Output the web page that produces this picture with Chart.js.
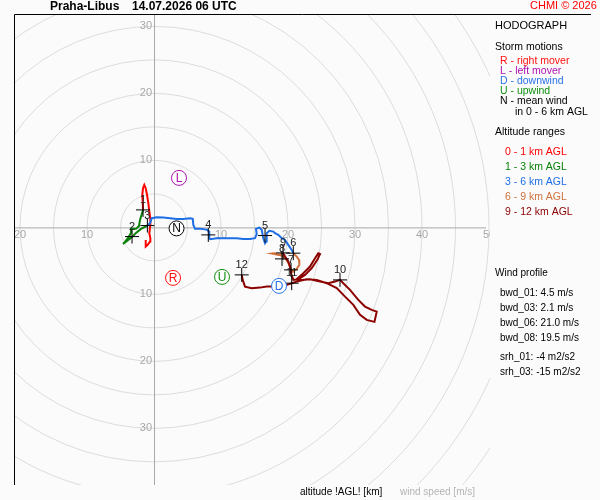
<!DOCTYPE html>
<html>
<head>
<meta charset="utf-8">
<script src="https://cdn.jsdelivr.net/npm/chart.js@4"></script>
<style>
  body { margin: 0; background: #fbfbfb; }
  canvas { display: block; }
</style>
</head>
<body>
<canvas id="chart" width="600" height="500"></canvas>
<script>
// hodograph traces, [u, v] in m/s
const layer0to1 = [[-1.24,-1.87],[-1.24,-2.87],[-0.94,-2.61],[-0.60,-2.12],[-0.55,-1.61],[-0.70,-0.87],[-0.55,0.37],[-0.55,1.37],[-0.70,2.36],[-0.85,3.61],[-1.04,4.85],[-1.24,5.85],[-1.45,6.34],[-1.64,5.85],[-1.75,4.85],[-1.69,3.85],[-1.64,2.61]];
const layer1to3 = [[-1.64,2.61],[-2.09,1.12],[-2.24,0.22],[-2.69,-0.22],[-3.43,-0.22],[-3.43,-0.82],[-3.88,-1.57],[-4.33,-2.16],[-4.63,-2.46],[-4.03,-2.01],[-3.28,-1.42],[-2.69,-0.82],[-1.94,-0.22],[-0.99,0.27]];
const layer3to6 = [[-0.99,0.27],[-0.60,0.63],[-0.34,1.37],[0.40,1.52],[1.39,1.46],[2.39,1.37],[3.39,1.27],[4.37,1.27],[5.37,1.37],[5.78,1.27],[5.87,0.37],[6.12,-0.22],[6.87,-0.22],[7.87,-0.33],[8.25,-0.63],[8.25,-1.61],[8.36,-1.76],[9.36,-1.61],[10.85,-1.61],[12.34,-1.61],[13.33,-1.72],[14.33,-1.72],[15.07,-1.61],[15.33,-1.01],[15.22,-0.22],[15.72,-0.03],[16.07,-0.37],[16.31,-1.61],[16.57,-2.36],[16.72,-2.12],[16.82,-0.87],[17.21,-0.52],[17.81,-0.63],[18.06,-0.87],[18.55,-1.12],[19.06,-1.61],[19.55,-1.87],[20.04,-2.61],[20.55,-3.36],[20.79,-3.85]];
const layer6to9 = [[20.79,-3.85],[21.30,-4.36],[21.64,-4.85],[21.69,-5.60],[21.30,-6.19],[20.75,-6.64],[20.45,-6.34],[20.10,-5.40],[19.60,-4.60],[19.10,-4.25],[18.00,-3.85],[17.60,-3.90],[18.60,-4.10],[19.25,-3.81]];
const layer9to12 = [[19.25,-3.81],[19.55,-4.36],[20.04,-5.10],[20.30,-5.85],[20.45,-6.84],[20.79,-7.84],[21.54,-7.73],[22.54,-7.09],[23.54,-6.09],[24.37,-4.85],[24.78,-3.96],[24.52,-3.85],[24.03,-4.60],[23.28,-5.85],[22.28,-6.84],[21.30,-7.73],[22.04,-7.84],[23.28,-7.73],[24.78,-8.09],[26.01,-8.33],[27.01,-8.09],[27.76,-7.84],[28.25,-8.33],[29.25,-9.33],[30.49,-10.82],[31.49,-11.82],[32.49,-12.31],[33.24,-12.57],[32.90,-14.10],[31.75,-13.81],[30.75,-13.06],[29.75,-11.57],[28.51,-10.33],[27.27,-9.07],[25.78,-8.33],[24.28,-7.84],[22.79,-7.73],[21.30,-8.09],[20.55,-8.33],[19.81,-8.58],[18.31,-8.84],[16.82,-8.84],[15.82,-8.99],[14.58,-9.07],[13.58,-8.84],[13.24,-7.84],[13.09,-7.09]];

// altitude markers (km AGL)
const markerKm = ['1','2','3','4','5','6','7','8','9','10','11','12'];
const markerU = [-1.64,-3.28,-0.99,8.10,16.57,20.79,20.45,19.10,19.25,27.76,20.55,13.09];
const markerV = [2.61,-1.37,0.27,-1.12,-1.22,-3.85,-6.34,-4.70,-3.81,-7.84,-8.33,-7.09];

// storm motions
const stormKeys = ['R','L','D','U','N'];
const stormU = [2.84,3.73,18.66,10.15,3.36];
const stormV = [-7.54,7.39,-8.73,-7.39,-0.15];
const stormColors = ['#ff1010','#b010b0','#2a72e6','#109010','#000000'];

// rings and axis labels
const ringSpeeds = [5,10,15,20,25,30,35,40,45,50,55,60,65];
const uTicks = [-20,-10,10,20,30,40,50];
const vTicks = [30,20,10,-10,-20,-30];

const layerColors = ['#ff0000','#088008','#1e6ee6','#d0703c','#8c0000'];
const layerNames = ['0 - 1 km AGL','1 - 3 km AGL','3 - 6 km AGL','6 - 9 km AGL','9 - 12 km AGL'];
const profileLines = ['bwd_01: 4.5 m/s','bwd_03: 2.1 m/s','bwd_06: 21.0 m/s','bwd_08: 19.5 m/s','srh_01: -4 m2/s2','srh_03: -15 m2/s2'];

const FONT = '"Liberation Sans", Arial, sans-serif';
const pts = arr => arr.map(p => ({ x: p[0], y: p[1] }));

const hodoPlugin = {
  id: 'hodo',
  beforeDatasetsDraw(chart) {
    const { ctx, chartArea: a, scales: { x, y } } = chart;
    const ox = x.getPixelForValue(0), oy = y.getPixelForValue(0);
    ctx.save();
    ctx.beginPath();
    ctx.rect(a.left, a.top, a.right - a.left + 4, a.bottom - a.top);
    ctx.clip();
    ctx.strokeStyle = '#dcdcdc';
    ctx.lineWidth = 1;
    ringSpeeds.forEach(r => {
      const rp = x.getPixelForValue(r) - ox;
      ctx.beginPath();
      ctx.arc(ox, oy, rp, 0, Math.PI * 2);
      ctx.stroke();
    });
    ctx.strokeStyle = '#a8a8a8';
    ctx.beginPath();
    ctx.moveTo(a.left, oy + 0.5); ctx.lineTo(a.right, oy + 0.5);
    ctx.moveTo(ox + 0.5, a.top); ctx.lineTo(ox + 0.5, a.bottom);
    ctx.stroke();
    ctx.fillStyle = '#a8a8a8';
    ctx.font = '11px ' + FONT;
    ctx.textAlign = 'center';
    ctx.textBaseline = 'top';
    uTicks.forEach(t => ctx.fillText(String(Math.abs(t)), x.getPixelForValue(t), oy + 2));
    ctx.textAlign = 'right';
    ctx.textBaseline = 'middle';
    vTicks.forEach(t => ctx.fillText(String(Math.abs(t)), ox - 2, y.getPixelForValue(t)));
    ctx.restore();
  },
  afterDatasetsDraw(chart) {
    const { ctx, scales: { x, y } } = chart;
    ctx.save();
    ctx.font = '11px ' + FONT;
    ctx.textAlign = 'center';
    ctx.textBaseline = 'middle';
    ctx.fillStyle = '#202020';
    markerKm.forEach((k, i) => {
      ctx.fillText(k, x.getPixelForValue(markerU[i]), y.getPixelForValue(markerV[i]) - 10);
    });
    ctx.font = '12px ' + FONT;
    stormKeys.forEach((k, i) => {
      ctx.fillStyle = stormColors[i];
      ctx.fillText(k, x.getPixelForValue(stormU[i]), y.getPixelForValue(stormV[i]) + 0.5);
    });
    ctx.restore();
  },
  afterDraw(chart) {
    const { ctx, chartArea: a } = chart;
    ctx.save();
    ctx.strokeStyle = '#000';
    ctx.lineWidth = 1;
    ctx.beginPath();
    ctx.moveTo(a.left - 0.5, a.bottom); ctx.lineTo(a.left - 0.5, a.top - 0.5); ctx.lineTo(591, a.top - 0.5);
    ctx.stroke();

    ctx.textBaseline = 'middle';
    ctx.textAlign = 'left';
    ctx.fillStyle = '#000';
    ctx.font = 'bold 12px ' + FONT;
    ctx.fillText('Praha-Libus', 50, 7);
    ctx.fillText('14.07.2026 06 UTC', 132, 7);
    ctx.font = '11px ' + FONT;
    ctx.fillStyle = '#ff0000';
    ctx.fillText('CHMI \u00a9 2026', 530, 6);

    ctx.fillStyle = '#000';
    ctx.font = '11px ' + FONT;
    ctx.fillText('HODOGRAPH', 495, 26);
    ctx.font = '10.5px ' + FONT;
    ctx.fillText('Storm motions', 495, 47);
    const legendY = [61, 71, 81, 91, 101];
    const legendText = ['R - right mover','L - left mover','D - downwind','U - upwind','N - mean wind'];
    legendText.forEach((t, i) => {
      ctx.fillStyle = stormColors[i];
      ctx.fillText(t, 500, legendY[i]);
    });
    ctx.fillStyle = '#000';
    ctx.fillText('in 0 - 6 km AGL', 515, 112);
    ctx.fillText('Altitude ranges', 495, 132);
    layerNames.forEach((t, i) => {
      ctx.fillStyle = layerColors[i];
      ctx.fillText(t, 505, 152 + i * 15);
    });

    ctx.fillStyle = '#000';
    ctx.font = '10px ' + FONT;
    ctx.fillText('Wind profile', 495, 273);
    const profY = [293, 308, 323, 338, 357, 372];
    profileLines.forEach((t, i) => ctx.fillText(t, 500, profY[i]));

    ctx.fillText('altitude !AGL! [km]', 300, 492);
    ctx.fillStyle = '#b4b4b4';
    ctx.fillText('wind speed [m/s]', 400, 492);
    ctx.restore();
  }
};

const lineSet = (data, color) => ({
  data: pts(data), showLine: true, borderColor: color, borderWidth: 2,
  pointRadius: 0, tension: 0, fill: false
});

new Chart(document.getElementById('chart'), {
  type: 'scatter',
  data: {
    datasets: [
      {
        data: stormKeys.map((k, i) => ({ x: stormU[i], y: stormV[i] })),
        pointStyle: 'circle', pointRadius: 7.5, borderWidth: 1,
        pointBackgroundColor: '#ffffff', pointBorderColor: stormColors
      },
      {
        data: markerKm.map((k, i) => ({ x: markerU[i], y: markerV[i] })),
        pointStyle: 'cross', pointRadius: 7, borderWidth: 1,
        pointBorderColor: '#000000', pointBackgroundColor: '#000000'
      },
      lineSet(layer9to12, layerColors[4]),
      lineSet(layer6to9, layerColors[3]),
      lineSet(layer3to6, layerColors[2]),
      lineSet(layer1to3, layerColors[1]),
      lineSet(layer0to1, layerColors[0])
    ]
  },
  options: {
    responsive: false,
    animation: false,
    devicePixelRatio: 1,
    layout: { padding: { left: 15, top: 15, right: 114, bottom: 15 } },
    plugins: { legend: { display: false }, tooltip: { enabled: false } },
    scales: {
      x: { type: 'linear', min: -20.75, max: 49.55, display: false },
      y: { type: 'linear', min: -38.45, max: 31.7, display: false }
    }
  },
  plugins: [hodoPlugin]
});
</script>
</body>
</html>
